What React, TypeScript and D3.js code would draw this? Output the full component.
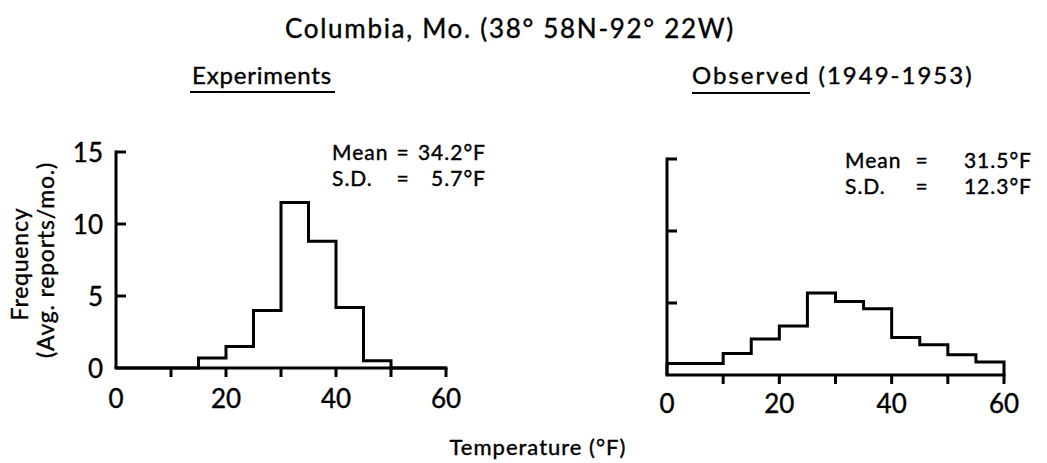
import React from "react";
import * as d3 from "d3";

const binStarts = [0, 5, 10, 15, 20, 25, 30, 35, 40, 45, 50, 55];
const binWidth = 5;
const experiments = [0, 0, 0, 0.7, 1.5, 4.0, 11.5, 8.8, 4.2, 0.5, 0, 0];
const observed = [0.8, 0.8, 1.5, 2.5, 3.4, 5.7, 5.1, 4.6, 2.6, 2.1, 1.4, 0.9];
const xTicks = [0, 10, 20, 30, 40, 50, 60];
const xTickLabels = [0, 20, 40, 60];
const yTicks = [5, 10, 15];
const yTickLabels = [0, 5, 10, 15];

const FONT = "Lato, 'DejaVu Sans', sans-serif";
const TS = { stroke: "#000", strokeWidth: 0.4 };

function stepPoints(values: number[]): [number, number][] {
  const pts: [number, number][] = [[binStarts[0], 0]];
  values.forEach((v, i) => {
    pts.push([binStarts[i], v]);
    pts.push([binStarts[i] + binWidth, v]);
  });
  pts.push([binStarts[binStarts.length - 1] + binWidth, 0]);
  return pts;
}

type PanelProps = {
  values: number[];
  xr: [number, number];
  yr: [number, number];
  showYLabels: boolean;
  labelY: number;
};

function Panel({ values, xr, yr, showYLabels, labelY }: PanelProps) {
  const x = d3.scaleLinear().domain([0, 60]).range(xr);
  const y = d3.scaleLinear().domain([0, 15]).range(yr);
  const line = d3
    .line<[number, number]>()
    .x((d) => x(d[0]))
    .y((d) => y(d[1]));
  const sw = 3;
  return (
    <g>
      <line x1={x(0)} x2={x(0)} y1={y(0)} y2={y(15) - sw / 2} stroke="#000" strokeWidth={sw} />
      {yTicks.map((t) => (
        <line key={t} x1={x(0)} x2={x(0) + 10} y1={y(t)} y2={y(t)} stroke="#000" strokeWidth={sw} />
      ))}
      <line x1={x(0) - sw / 2} x2={x(60) + sw / 2} y1={y(0)} y2={y(0)} stroke="#000" strokeWidth={sw} />
      {xTicks.slice(1).map((t) => (
        <line key={t} x1={x(t)} x2={x(t)} y1={y(0)} y2={y(0) + 9} stroke="#000" strokeWidth={sw} />
      ))}
      <path d={line(stepPoints(values)) || ""} fill="none" stroke="#000" strokeWidth={sw} strokeLinejoin="miter" />
      {xTickLabels.map((t) => (
        <text key={t} x={x(t)} y={labelY} textAnchor="middle" fontSize={26} fontFamily={FONT} fill="#000" {...TS}>
          {t}
        </text>
      ))}
      {showYLabels &&
        yTickLabels.map((t) => (
          <text
            key={t}
            x={x(0) - 13}
            y={y(t)}
            textAnchor="end"
            dominantBaseline="central"
            fontSize={26}
            fontFamily={FONT}
            fill="#000"
            {...TS}
          >
            {t}
          </text>
        ))}
    </g>
  );
}

export default function App() {
  return (
    <svg
      width={1047}
      height={463}
      viewBox="0 0 1047 463"
      style={{ position: "absolute", left: 0, top: 0, background: "#fff" }}
    >
      <rect x={0} y={0} width={1047} height={463} fill="#fff" />
      <text x={510} y={38} textAnchor="middle" fontSize={26} letterSpacing={1.7} fontFamily={FONT} fill="#000" {...TS}>
        Columbia, Mo. (38° 58N-92° 22W)
      </text>
      <text x={262} y={84} textAnchor="middle" fontSize={24} letterSpacing={0.8} fontFamily={FONT} fill="#000" {...TS}>
        Experiments
      </text>
      <line x1={190} x2={335} y1={92} y2={92} stroke="#000" strokeWidth={2} />
      <text x={692} y={84} textAnchor="start" fontSize={24} letterSpacing={2} fontFamily={FONT} fill="#000" {...TS}>
        Observed (1949-1953)
      </text>
      <line x1={692} x2={810} y1={93} y2={93} stroke="#000" strokeWidth={2} />

      <text
        transform="translate(19,264) rotate(-90)"
        textAnchor="middle"
        dominantBaseline="central"
        fontSize={23}
        letterSpacing={0.8}
        fontFamily={FONT}
        fill="#000"
        {...TS}
      >
        Frequency
      </text>
      <text
        transform="translate(45,260) rotate(-90)"
        textAnchor="middle"
        dominantBaseline="central"
        fontSize={23}
        letterSpacing={0.8}
        fontFamily={FONT}
        fill="#000"
        {...TS}
      >
        (Avg. reports/mo.)
      </text>

      <Panel values={experiments} xr={[116, 446]} yr={[368, 152]} showYLabels={true} labelY={408} />
      <Panel values={observed} xr={[667, 1004]} yr={[375, 159]} showYLabels={false} labelY={413} />

      <g fontSize={21} fontFamily={FONT} fill="#000" letterSpacing={1} {...TS}>
        <text x={332} y={160}>Mean</text>
        <text x={403} y={160} textAnchor="middle">=</text>
        <text x={486} y={160} textAnchor="end">34.2°F</text>
        <text x={332} y={186}>S.D.</text>
        <text x={403} y={186} textAnchor="middle">=</text>
        <text x={486} y={186} textAnchor="end">5.7°F</text>

        <text x={845} y={168}>Mean</text>
        <text x={922} y={168} textAnchor="middle">=</text>
        <text x={1032} y={168} textAnchor="end">31.5°F</text>
        <text x={845} y={194}>S.D.</text>
        <text x={922} y={194} textAnchor="middle">=</text>
        <text x={1032} y={194} textAnchor="end">12.3°F</text>
      </g>

      <text x={538} y={455} textAnchor="middle" fontSize={22} letterSpacing={1} fontFamily={FONT} fill="#000" {...TS}>
        Temperature (°F)
      </text>
    </svg>
  );
}
